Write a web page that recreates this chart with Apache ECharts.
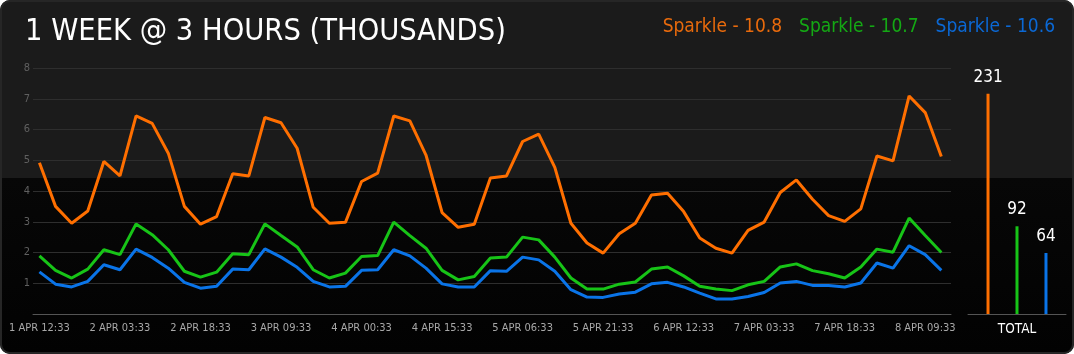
<!DOCTYPE html>
<html>
<head>
<meta charset="utf-8">
<script src="https://cdn.jsdelivr.net/npm/echarts@6/dist/echarts.min.js"></script>
<style>
  html, body { margin: 0; padding: 0; background: #fff; }
  #chart {
    width: 1074px;
    height: 354px;
    border-radius: 10px;
    overflow: hidden;
    background: linear-gradient(to bottom, #1b1b1b 0, #1b1b1b 178px, #070707 178px, #020202 100%);
    box-shadow: inset 0 0 0 2px #262626;
  }
</style>
</head>
<body>
<div id="chart"></div>
<script>
// series names, as shown in the legend
const seriesNames = ['Sparkle - 10.8', 'Sparkle - 10.7', 'Sparkle - 10.6']

// one value every 3 hours, thousands
const sparkle108 = [
  4.92, 3.50, 2.95, 3.35, 4.96, 4.49, 6.44, 6.20, 5.23, 3.50, 2.92, 3.17, 4.56, 4.49,
  6.39, 6.22, 5.39, 3.47, 2.95, 2.98, 4.31, 4.58, 6.44, 6.28, 5.17, 3.30, 2.82, 2.92,
  4.42, 4.49, 5.61, 5.85, 4.77, 2.95, 2.31, 1.98, 2.61, 2.95, 3.87, 3.93, 3.33, 2.47, 2.14,
  1.98, 2.72, 2.99, 3.95, 4.36, 3.73, 3.20, 3.01, 3.42, 5.14, 4.98, 7.09, 6.55, 5.12,
]
const sparkle107 = [
  1.89, 1.42, 1.17, 1.46, 2.09, 1.93, 2.93, 2.58, 2.09, 1.39, 1.20, 1.36, 1.96, 1.93,
  2.93, 2.55, 2.18, 1.44, 1.17, 1.33, 1.87, 1.90, 2.99, 2.55, 2.14, 1.42, 1.11, 1.22,
  1.82, 1.85, 2.50, 2.41, 1.85, 1.17, 0.81, 0.81, 0.97, 1.04, 1.46, 1.53, 1.24, 0.90, 0.81,
  0.76, 0.95, 1.06, 1.53, 1.63, 1.41, 1.31, 1.17, 1.53, 2.11, 2.01, 3.12, 2.55, 2.00,
]
const sparkle106 = [
  1.37, 0.97, 0.88, 1.06, 1.60, 1.44, 2.11, 1.84, 1.49, 1.03, 0.84, 0.90, 1.46, 1.44,
  2.12, 1.85, 1.52, 1.06, 0.88, 0.90, 1.42, 1.44, 2.09, 1.89, 1.49, 0.98, 0.88, 0.88,
  1.41, 1.39, 1.85, 1.76, 1.39, 0.79, 0.55, 0.54, 0.65, 0.71, 0.98, 1.03, 0.88, 0.68, 0.49,
  0.49, 0.57, 0.70, 1.01, 1.06, 0.93, 0.93, 0.88, 1.01, 1.66, 1.49, 2.22, 1.93, 1.42,
]

// totals for the right-hand panel
const totals = [231, 92, 64]

// x labels, one every 5 points (15 hours)
const tickLabels = [
  '1 APR 12:33', '2 APR 03:33', '2 APR 18:33', '3 APR 09:33', '4 APR 00:33', '4 APR 15:33',
  '5 APR 06:33', '5 APR 21:33', '6 APR 12:33', '7 APR 03:33', '7 APR 18:33', '8 APR 09:33',
]
const tickEvery = 5

const colors = ['#ff6f00', '#17c417', '#0a74e8']
const legendColors = ['#e86a0c', '#14a814', '#0b68d4']
const font = "'DejaVu Sans Condensed', 'Liberation Sans Narrow', sans-serif"

const lines = [sparkle108, sparkle107, sparkle106]

const chart = echarts.init(document.getElementById('chart'))

const option = {
  animation: false,
  textStyle: { fontFamily: font },
  title: {
    text: '1 WEEK @ 3 HOURS (THOUSANDS)',
    left: 20,
    top: 12,
    textStyle: {
      color: '#fff',
      fontSize: 30.5,
      fontWeight: 'normal',
      fontFamily: font,
    },
  },
  legend: {
    right: 14,
    top: 13,
    icon: 'none',
    itemWidth: 0,
    itemHeight: 0,
    itemGap: 12,
    data: seriesNames.map((name, i) => ({
      name,
      textStyle: { color: legendColors[i] },
    })),
    textStyle: { fontSize: 19, fontFamily: font },
  },
  grid: [
    { left: 33, right: 123, top: 68, bottom: 40, outerBoundsMode: 'none' },
    { left: 968, width: 98, top: 68, bottom: 40, outerBoundsMode: 'none' },
  ],
  xAxis: [
    {
      type: 'value',
      gridIndex: 0,
      min: -0.4,
      max: 56.6,
      axisLine: { show: true, lineStyle: { color: '#555' } },
      axisTick: { show: false },
      splitLine: { show: false },
      axisLabel: {
        customValues: tickLabels.map((_, i) => i * tickEvery),
        formatter: (v) => tickLabels[Math.round(v / tickEvery)] || '',
        color: '#a8a8a8',
        fontSize: 11,
        margin: 9,
        fontFamily: font,
      },
    },
    {
      type: 'category',
      gridIndex: 1,
      data: ['TOTAL'],
      axisLine: { show: true, lineStyle: { color: '#555' } },
      axisTick: { show: false },
      axisLabel: { color: '#fff', fontSize: 13.5, margin: 8, fontFamily: font },
    },
  ],
  yAxis: [
    {
      type: 'value',
      gridIndex: 0,
      min: 0,
      max: 8,
      interval: 1,
      axisLine: { show: false },
      axisTick: { show: false },
      splitLine: { lineStyle: { color: '#2e2e2e', width: 1 } },
      axisLabel: {
        color: '#606060',
        fontSize: 11,
        margin: 3,
        fontFamily: font,
        formatter: (v) => (v === 0 ? '' : v),
      },
    },
    {
      type: 'value',
      gridIndex: 1,
      min: 0,
      max: 258,
      show: false,
      splitLine: { show: false },
    },
  ],
  series: [
    ...lines.map((values, i) => ({
      name: seriesNames[i],
      type: 'line',
      xAxisIndex: 0,
      yAxisIndex: 0,
      data: values.map((v, idx) => [idx, v]),
      showSymbol: false,
      lineStyle: { color: colors[i], width: 3 },
      itemStyle: { color: colors[i] },
      z: 3 - i,
    })),
    ...totals.map((t, i) => ({
      name: seriesNames[i],
      type: 'bar',
      xAxisIndex: 1,
      yAxisIndex: 1,
      data: [t],
      barWidth: 3,
      barGap: '866%',
      itemStyle: { color: colors[i] },
      label: {
        show: true,
        position: 'top',
        distance: 8,
        color: '#fff',
        fontSize: 17,
        fontFamily: font,
      },
    })),
  ],
}

chart.setOption(option)
</script>
</body>
</html>
